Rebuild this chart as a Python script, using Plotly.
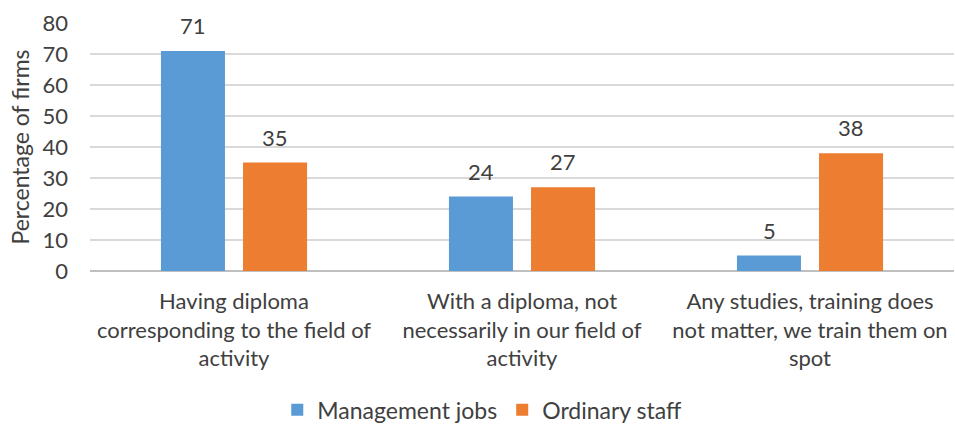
import plotly.graph_objects as go

categories = [
    "Having diploma<br>corresponding to the field of<br>activity",
    "With a diploma, not<br>necessarily in our field of<br>activity",
    "Any studies, training does<br>not matter, we train them on<br>spot",
]
management_jobs = [71, 24, 5]
ordinary_staff = [35, 27, 38]

FONT = "Lato, 'Open Sans', sans-serif"
TEXT = "#404040"
SIZE = 22

series = [
    ("Management jobs", management_jobs, "#5b9bd5", -41),
    ("Ordinary staff", ordinary_staff, "#ed7d31", 41),
]

fig = go.Figure()
annotations = []
for name, values, color, shift in series:
    fig.add_trace(go.Bar(
        name=name, x=categories, y=values,
        marker=dict(color=color, line=dict(width=0)),
    ))
    # value labels floating above each bar
    for cat, v in zip(categories, values):
        annotations.append(dict(
            x=cat, y=v, xref="x", yref="y", text=str(v), showarrow=False,
            xshift=shift, yshift=10, yanchor="bottom",
            font=dict(size=SIZE, color=TEXT, family=FONT),
        ))

fig.update_layout(
    width=955, height=425,
    margin=dict(l=90, r=1, t=23, b=154),
    paper_bgcolor="white", plot_bgcolor="white",
    barmode="group", bargap=0.43, bargroupgap=0.22,
    font=dict(family=FONT, size=SIZE, color=TEXT),
    annotations=annotations,
    showlegend=True,
    legend=dict(
        orientation="h", xref="container", yref="container",
        x=0.505, y=0.036, xanchor="center", yanchor="middle",
        font=dict(size=23, color=TEXT, family=FONT),
        itemwidth=30, tracegroupgap=0,
    ),
)
fig.update_xaxes(
    showgrid=False, showline=False, ticks="",
    tickfont=dict(size=SIZE, color=TEXT, family=FONT),
    ticklabelstandoff=15,
)
fig.update_yaxes(
    range=[0, 80], dtick=10, showgrid=True, gridcolor="#d9d9d9", gridwidth=1.5,
    zeroline=True, zerolinecolor="#bfbfbf", zerolinewidth=1.5,
    showline=False, ticks="",
    tickfont=dict(size=SIZE, color=TEXT, family=FONT),
    ticklabelstandoff=21,
    title=dict(text="Percentage of firms", font=dict(size=23, color=TEXT, family=FONT), standoff=6),
)

fig.write_html("out.html")
